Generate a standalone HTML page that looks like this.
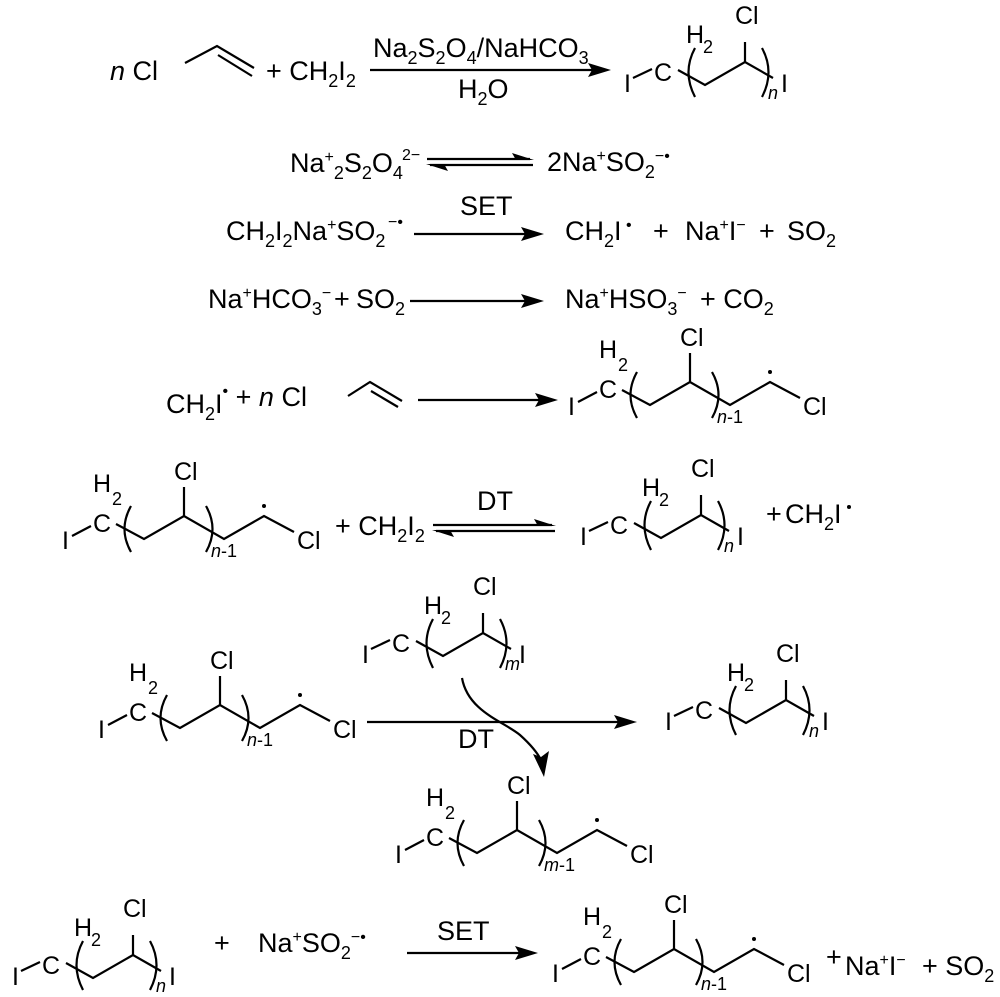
<!DOCTYPE html>
<html><head><meta charset="utf-8"><style>
html,body{margin:0;padding:0;background:#fff;}
svg{display:block;}
text{font-family:"Liberation Sans",Arial,sans-serif;fill:#000;}
.e{font-size:27px;}
.s{font-size:25px;}
.sb{font-size:18px;}
.sp{font-size:16px;}
line,path.b{stroke:#000;stroke-width:2.2;fill:none;}
</style></head><body>
<svg width="1000" height="997" viewBox="0 0 1000 997" xmlns="http://www.w3.org/2000/svg">
<defs>
<g id="short">
<text class="s" x="0" y="0">I</text>
<line x1="9" y1="-14" x2="28" y2="-23"/>
<text class="s" x="30" y="-11">C</text>
<text class="s" x="62" y="-49">H</text>
<text class="sb" x="79" y="-39">2</text>
<path class="b" d="M54,-22 L81,-7 L121,-30 L149,-14"/>
<line x1="121" y1="-30" x2="121" y2="-50"/>
<text class="s" x="111" y="-68">Cl</text>
<text class="s" x="157" y="0">I</text>
<path class="b" d="M71,-44 Q58,-20 71,5"/>
<path class="b" d="M138,-44 Q151,-20 138,5"/>
</g>
<g id="long">
<text class="s" x="0" y="0">I</text>
<line x1="10" y1="-13" x2="29" y2="-23"/>
<text class="s" x="31" y="-17">C</text>
<text class="s" x="31" y="-57">H</text>
<text class="sb" x="50" y="-44">2</text>
<path class="b" d="M54,-25 L82,-10 L122,-33 L162,-10 L202,-33 L232,-17"/>
<line x1="122" y1="-33" x2="122" y2="-62"/>
<text class="s" x="112" y="-69">Cl</text>
<circle cx="202" cy="-43" r="2" fill="#000"/>
<text class="s" x="235" y="0">Cl</text>
<path class="b" d="M69,-43 Q56,-20 69,3"/>
<path class="b" d="M144,-43 Q157,-20 144,3"/>
</g>
</defs>

<!-- Row 1 -->
<text class="e" x="110" y="80"><tspan font-style="italic">n</tspan> Cl</text>
<path class="b" d="M185,63 L217,46 L254,68"/>
<line x1="218" y1="55" x2="252" y2="76"/>
<text class="e" x="266" y="80">+ CH<tspan class="sb" dy="7">2</tspan><tspan dy="-7">I</tspan><tspan class="sb" dy="7">2</tspan></text>
<text class="e" x="373" y="57">Na<tspan class="sb" dy="7">2</tspan><tspan dy="-7">S</tspan><tspan class="sb" dy="7">2</tspan><tspan dy="-7">O</tspan><tspan class="sb" dy="7">4</tspan><tspan dy="-7">/NaHCO</tspan><tspan class="sb" dy="7">3</tspan></text>
<line x1="370" y1="70" x2="592" y2="70"/>
<polygon points="611,70 588,63 592,70 588,77" fill="#000"/>
<text class="e" x="458" y="98">H<tspan class="sb" dy="7">2</tspan><tspan dy="-7">O</tspan></text>
<use href="#short" x="624" y="92"/>
<text class="sb" x="768" y="99" font-style="italic">n</text>

<!-- Row 2 -->
<text class="e" x="290" y="172">Na<tspan class="sp" dy="-10">+</tspan><tspan class="sb" dy="17">2</tspan><tspan dy="-7">S</tspan><tspan class="sb" dy="7">2</tspan><tspan dy="-7">O</tspan><tspan class="sb" dy="7">4</tspan></text>
<text class="sp" x="402" y="160">2−</text>
<line x1="427" y1="159" x2="530" y2="159"/>
<polygon points="534,160 512,153 516,160" fill="#000"/>
<line x1="430" y1="165" x2="533" y2="165"/>
<polygon points="426,164 448,171 444,164" fill="#000"/>
<text class="e" x="547" y="171">2Na<tspan class="sp" dy="-10">+</tspan><tspan dy="10">SO</tspan><tspan class="sb" dy="7">2</tspan><tspan class="sp" dy="-17">−•</tspan></text>

<!-- Row 3 -->
<text class="e" x="226" y="240">CH<tspan class="sb" dy="7">2</tspan><tspan dy="-7">I</tspan><tspan class="sb" dy="7">2</tspan><tspan dy="-7">Na</tspan><tspan class="sp" dy="-10">+</tspan><tspan dy="10">SO</tspan><tspan class="sb" dy="7">2</tspan></text>
<text class="sp" x="388" y="227">−•</text>
<text class="e" x="460" y="215">SET</text>
<line x1="414" y1="234" x2="526" y2="234"/>
<polygon points="544,234 521,227 525,234 521,241" fill="#000"/>
<text class="e" x="565" y="240">CH<tspan class="sb" dy="7">2</tspan><tspan dy="-7">I</tspan><tspan class="sp" dy="-10"> •</tspan></text>
<text class="e" x="653" y="240">+</text>
<text class="e" x="685" y="240">Na<tspan class="sp" dy="-10">+</tspan><tspan dy="10">I</tspan><tspan class="sp" dy="-10">−</tspan></text>
<text class="e" x="759" y="240">+</text>
<text class="e" x="787" y="240">SO<tspan class="sb" dy="7">2</tspan></text>

<!-- Row 4 -->
<text class="e" x="208" y="308">Na<tspan class="sp" dy="-10">+</tspan><tspan dy="10">HCO</tspan><tspan class="sb" dy="7">3</tspan><tspan class="sp" dy="-17">−</tspan></text>
<text class="e" x="334" y="308">+</text>
<text class="e" x="356" y="308">SO<tspan class="sb" dy="7">2</tspan></text>
<line x1="410" y1="301" x2="526" y2="301"/>
<polygon points="544,301 521,294 525,301 521,308" fill="#000"/>
<text class="e" x="565" y="308">Na<tspan class="sp" dy="-10">+</tspan><tspan dy="10">HSO</tspan><tspan class="sb" dy="7">3</tspan><tspan class="sp" dy="-17">−</tspan></text>
<text class="e" x="700" y="308">+ CO<tspan class="sb" dy="7">2</tspan></text>

<!-- Row 5 -->
<text class="e" x="166" y="413">CH<tspan class="sb" dy="7">2</tspan><tspan dy="-7">I</tspan><tspan class="sp" dy="-17">•</tspan><tspan dy="10"> + </tspan><tspan font-style="italic">n</tspan> Cl</text>
<path class="b" d="M348,396 L370,382 L402,401"/>
<line x1="371" y1="391" x2="398" y2="407"/>
<line x1="418" y1="400" x2="540" y2="400"/>
<polygon points="558,400 535,393 539,400 535,407" fill="#000"/>
<use href="#long" x="568" y="415"/>
<text class="sb" x="717" y="423"><tspan font-style="italic">n</tspan>-1</text>

<!-- Row 6 -->
<use href="#long" x="62" y="549"/>
<text class="sb" x="211" y="557"><tspan font-style="italic">n</tspan>-1</text>
<text class="e" x="335" y="535">+ CH<tspan class="sb" dy="7">2</tspan><tspan dy="-7">I</tspan><tspan class="sb" dy="7">2</tspan></text>
<text class="e" x="477" y="510">DT</text>
<line x1="433" y1="525" x2="552" y2="525"/>
<polygon points="556,526 534,519 538,526" fill="#000"/>
<line x1="436" y1="531" x2="555" y2="531"/>
<polygon points="432,530 454,537 450,530" fill="#000"/>
<use href="#short" x="580" y="545"/>
<text class="sb" x="724" y="552" font-style="italic">n</text>
<text class="e" x="766" y="523">+</text>
<text class="e" x="785" y="523">CH<tspan class="sb" dy="7">2</tspan><tspan dy="-7">I</tspan></text>
<circle cx="849" cy="507" r="2" fill="#000"/>

<!-- Row 7 -->
<use href="#short" x="362" y="663"/>
<text class="sb" x="505" y="670" font-style="italic">m</text>
<use href="#long" x="98" y="738"/>
<text class="sb" x="247" y="746"><tspan font-style="italic">n</tspan>-1</text>
<line x1="367" y1="722" x2="618" y2="722"/>
<polygon points="637,722 614,715 618,722 614,729" fill="#000"/>
<text class="e" x="458" y="748">DT</text>
<path class="b" d="M462,678 C468,712 505,722 520,735 C530,744 537,752 541,760"/>
<polygon points="544,777 533,754 541,757 549,751" fill="#000"/>
<use href="#short" x="665" y="730"/>
<text class="sb" x="809" y="737" font-style="italic">n</text>

<!-- Row 8 -->
<use href="#long" x="395" y="863"/>
<text class="sb" x="544" y="871"><tspan font-style="italic">m</tspan>-1</text>

<!-- Row 9 -->
<use href="#short" x="12" y="985"/>
<text class="sb" x="156" y="992" font-style="italic">n</text>
<text class="e" x="214" y="952">+</text>
<text class="e" x="258" y="952">Na<tspan class="sp" dy="-10">+</tspan><tspan dy="10">SO</tspan><tspan class="sb" dy="7">2</tspan><tspan class="sp" dy="-17">−•</tspan></text>
<text class="e" x="437" y="940">SET</text>
<line x1="407" y1="953" x2="520" y2="953"/>
<polygon points="538,953 515,946 519,953 515,960" fill="#000"/>
<use href="#long" x="552" y="982"/>
<text class="sb" x="701" y="990"><tspan font-style="italic">n</tspan>-1</text>
<text class="e" x="826" y="966">+</text>
<text class="e" x="845" y="975">Na<tspan class="sp" dy="-10">+</tspan><tspan dy="10">I</tspan><tspan class="sp" dy="-10">−</tspan></text>
<text class="e" x="922" y="975">+ SO<tspan class="sb" dy="7">2</tspan></text>
</svg>
</body></html>
